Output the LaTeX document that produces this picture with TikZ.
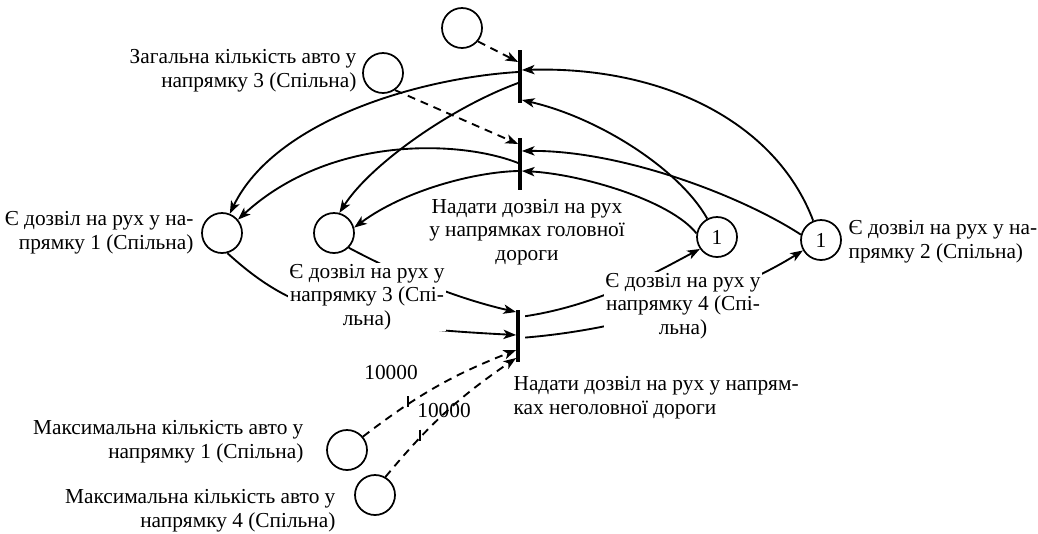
\documentclass[tikz,border=0pt]{standalone}
\usepackage{fontspec}
\setmainfont{Liberation Serif}
\usetikzlibrary{arrows.meta,calc}

\begin{document}
\begin{tikzpicture}[x=0.75pt,y=-0.75pt,
  every node/.style={font=\fontsize{16pt}{17.8pt}\selectfont},
  place/.style={circle,draw,line width=1.3pt,minimum size=30pt,inner sep=0pt},
  trans/.style={rectangle,fill=black,draw=none,minimum width=2.4pt,minimum height=39.5pt,inner sep=0pt},
  arc/.style={line width=1.4pt,-{Stealth[length=9.5pt,width=7pt,inset=2.5pt]}},
  inh/.style={arc,dash pattern=on 6pt off 4.5pt},
  lbl/.style={inner sep=1pt,fill=white},
]
\useasboundingbox (0,0) rectangle (1038,533);

% places
\node[place] (Ptop)  at (462,28)  {};
\node[place] (Pdir3) at (383,73)  {};
\node[place] (P1)    at (222,233) {};
\node[place] (P3)    at (334,233) {};
\node[place] (P4)    at (717,237) {1};
\node[place] (P2)    at (821,240) {1};
\node[place] (Pmax1) at (347,450) {};
\node[place] (Pmax4) at (375,495) {};

% transitions
\node[trans] (T1) at (520,76.5) {};
\node[trans] (T2) at (520,164)  {};
\node[trans] (T3) at (518,336)  {};

% outputs of T1
\draw[arc] ($(T1.west)+(0,-4.5)$) .. controls (420,78) and (275,120) .. (P1.68);
\draw[arc] ($(T1.west)+(0,6.5)$) .. controls (450,108) and (370,165) .. (P3.75);
% outputs of T2
\draw[arc] ($(T2.west)+(0,-1)$) .. controls (460,140) and (330,135) .. (P1.40);
\draw[arc] ($(T2.west)+(0,7)$) .. controls (475,172) and (405,190) .. (P3.15);

% inputs of T1
\draw[inh] (Ptop.-40) -- ($(T1.west)+(0,-14.5)$);
\draw[arc] (P2.112) .. controls (775,120) and (660,66) .. ($(T1.east)+(0,-6.5)$);
\draw[arc] (P4.118) .. controls (680,170) and (600,118) .. ($(T1.east)+(0,23.5)$);

% inputs of T2
\draw[inh] (Pdir3.-55) -- ($(T2.west)+(0,-20)$);
\draw[arc] (P2.165) .. controls (740,195) and (620,150) .. ($(T2.east)+(0,-13)$);
\draw[arc] (P4.170) .. controls (670,200) and (580,174) .. ($(T2.east)+(0,7)$);

% inputs of T3
\draw[arc] (P3.-45) .. controls (400,275) and (455,298) .. ($(T3.west)+(0,-24)$);
\draw[arc] (P1.-75) .. controls (290,310) and (340,326) .. ($(T3.west)+(0,-1)$);
\draw[inh] (Pmax1.40) to[bend left=8] coordinate[pos=0.3] (k1) ($(T3.west)+(0,14)$);
\draw[inh] (Pmax4.60) to[bend left=8] coordinate[pos=0.28] (k2) ($(T3.west)+(0,22)$);
\draw[line width=1.3pt] ($(k1)+(0,-8)$) -- ($(k1)+(0,3)$);
\draw[line width=1.3pt] ($(k2)+(0,-8)$) -- ($(k2)+(0,3)$);

% outputs of T3
\draw[arc,shorten <=4pt] ($(T3.east)+(0,-19)$) .. controls (600,305) and (660,270) .. (P4.-145);
\draw[arc,shorten <=4pt] ($(T3.east)+(0,2)$) .. controls (640,328) and (740,290) .. (P2.-150);

% labels
\node[lbl,anchor=east,align=right] (Ldir3) at (358,71) {Загальна кількість авто у\\напрямку 3 (Спільна)};
\node[lbl,anchor=east,align=right] (LP1) at (195,233) {Є дозвіл на рух у на-\\прямку 1 (Спільна)};
\node[lbl,align=center] (LT12) at (527,232) {Надати дозвіл на рух\\у напрямках головної\\дороги};
\node[lbl,align=center] (LP3) at (367,297) {Є дозвіл на рух у\\напрямку 3 (Спі-\\льна)};
\node[lbl,align=center] (LP4) at (683,306) {Є дозвіл на рух у\\напрямку 4 (Спі-\\льна)};
\node[lbl,anchor=west,align=left] (LP2) at (847,242) {Є дозвіл на рух у на-\\прямку 2 (Спільна)};
\node[lbl,anchor=west,align=left] (LT3) at (512,398) {Надати дозвіл на рух у напрям-\\ках неголовної дороги};
\node[lbl,anchor=east,align=right] (Lmax1) at (305,442) {Максимальна кількість авто у\\напрямку 1 (Спільна)};
\node[lbl,anchor=east,align=right] (Lmax4) at (337,511) {Максимальна кількість авто у\\напрямку 4 (Спільна)};
\node (N1) at (391,373) {10000};
\node (N2) at (444,410) {10000};
\end{tikzpicture}
\end{document}
